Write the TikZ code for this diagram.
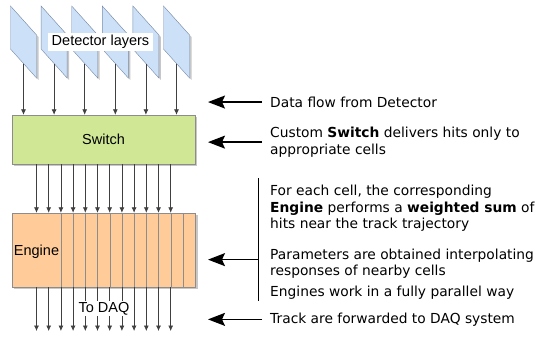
\documentclass[tikz,border=0pt]{standalone}
\usepackage{fontspec}
\setmainfont{Liberation Sans}
\newfontfamily\notefont{DejaVu Sans}
\usetikzlibrary{arrows.meta,positioning,calc,shadows}

\definecolor{capa}{RGB}{204,224,248}
\definecolor{capaborde}{RGB}{120,140,170}
\definecolor{verdesw}{RGB}{208,232,150}
\definecolor{naranja}{RGB}{255,204,153}

\begin{document}
\begin{tikzpicture}[
    x=1pt, y=-1pt,
    font=\fontsize{14.5}{17}\selectfont,
    sombra/.style={drop shadow={shadow xshift=2pt, shadow yshift=-2pt, fill=black!22, opacity=1}},
    capa/.style={draw=capaborde, fill=capa, sombra},
    caja/.style={draw=black!45, inner sep=0pt},
    celda/.style={caja, fill=naranja, minimum width=49pt, minimum height=74pt},
    flujo/.style={-{Latex[length=5.5pt,width=5pt]}, black!75, line width=0.7pt},
    nota/.style={font=\notefont\fontsize{13.8}{16.5}\selectfont, align=left,
      anchor=north west, inner sep=0pt},
    flecha/.style={-{Stealth[length=17pt,width=13pt,inset=3pt]}, line width=1.4pt}
  ]
    \useasboundingbox (0,0) rectangle (536,338);

    % detector layers
    \foreach \i in {0,...,5} {
      \draw[capa] (10.5+30.6*\i,6) -- ++(26,29) -- ++(0,43) -- ++(-26,-29) -- cycle;
      \coordinate (det\i) at (23.5+30.6*\i,63.5);
    }
    \node[fill=white, inner xsep=3.5pt, inner ysep=2pt] (capas) at (100.5,42) {Detector layers};

    \node[caja, sombra, fill=verdesw, minimum width=183pt, minimum height=49pt] (sw) at (103.5,139.5) {Switch};

    % engines, front one drawn last
    \fill[black!22] (14,215) rectangle (198,289);
    \foreach \k in {11,...,1}
      \node[celda] (celda\k) at (36.5+12.2*\k,250) {};
    \node[celda, text depth=-6pt] (celda0) at (36.5,250) {Engine};

    \coordinate (salida) at (0,331);
    \foreach \i in {0,...,5}
      \draw[flujo] (det\i) -- (det\i |- sw.north);
    \foreach \k in {0,...,11} {
      \draw[flujo] (celda\k.north |- sw.south) -- (celda\k.north);
      \draw[flujo] (celda\k.south) -- (celda\k.south |- salida);
    }
    \node[fill=white, inner sep=1.5pt] (daq) at (104,308.5) {To DAQ};

    % notes on the right
    \coordinate (punta) at (208,0);
    \node[nota] (n1) at (270,96.5) {Data flow from Detector};
    \node[nota] (n2) at (270,127) {Custom \textbf{Switch} delivers hits only to\\appropriate cells};
    \node[nota] (n3) at (270,185) {For each cell, the corresponding\\\textbf{Engine} performs a \textbf{weighted sum} of\\hits near the track trajectory};
    \node[nota] (n4) at (270,248.5) {Parameters are obtained interpolating\\responses of nearby cells};
    \node[nota] (n5) at (270,286) {Engines work in a fully parallel way};
    \node[nota] (n6) at (270,312.5) {Track are forwarded to DAQ system};

    \draw[flecha] ([xshift=-8pt]n1.west) -- (n1.west -| punta);
    \draw[flecha] ([xshift=-8pt]n2.west) -- (n2.west -| punta);
    \draw[line width=1.3pt] ([shift={(-11.5pt,7pt)}]n3.north west) coordinate (llave)
      -- ([shift={(-11.5pt,-1pt)}]n5.south west);
    \draw[flecha] ([yshift=4pt]llave |- n4.west) -- ([yshift=4pt]n4.west -| punta);
    \draw[flecha] ([xshift=-8pt]n6.west) -- (n6.west -| punta);
  \end{tikzpicture}
\end{document}
